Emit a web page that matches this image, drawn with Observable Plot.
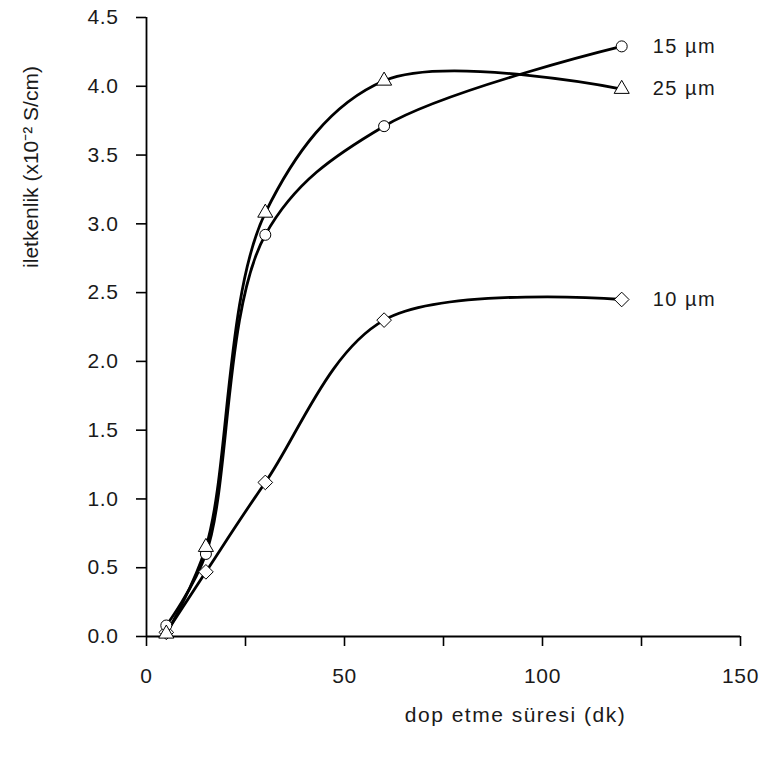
<!DOCTYPE html>
<html>
<head>
<meta charset="utf-8">
<script src="https://cdn.jsdelivr.net/npm/d3@7"></script>
<script src="https://cdn.jsdelivr.net/npm/@observablehq/plot@0.6"></script>
<style>
  body { margin: 0; background: #fff; }
  svg { font-family: "Liberation Sans", Arial, sans-serif; }
  .lsx text { letter-spacing: 1.5px; }
  .lst text { letter-spacing: 0.6px; }
</style>
</head>
<body>
<div id="chart"></div>
<script>
const times = [5, 15, 30, 60, 120];
const s10 = [0.03, 0.47, 1.12, 2.30, 2.45];
const s15 = [0.08, 0.60, 2.92, 3.71, 4.29];
const s25 = [0.02, 0.65, 3.08, 4.04, 3.98];
const seriesNames = ["10 µm", "15 µm", "25 µm"];
const seriesSymbols = ["diamond2", "circle", "triangle"];
const xTicks = [0, 25, 50, 75, 100, 125, 150];
const xTickLabels = [0, 50, 100, 150];
const yTicks = [0, 0.5, 1.0, 1.5, 2.0, 2.5, 3.0, 3.5, 4.0, 4.5];
const xLabel = "dop etme süresi (dk)";
const yLabel = "iletkenlik (x10⁻² S/cm)";

const values = [s10, s15, s25];
const rows = [];
seriesNames.forEach((name, i) => {
  times.forEach((t, j) => rows.push({series: name, t, v: values[i][j]}));
});
const lastRows = seriesNames.map((name, i) => ({series: name, t: times[times.length - 1], v: values[i][times.length - 1]}));
const symbolSizes = {"diamond2": 6.6, "circle": 5.5, "triangle": 5.6};

const chart = Plot.plot({
  width: 768,
  height: 759,
  marginLeft: 146,
  marginRight: 28,
  marginTop: 17,
  marginBottom: 123,
  style: {fontFamily: "'Liberation Sans', Arial, sans-serif", color: "#1a1a1a", background: "#fff"},
  x: {domain: [0, 150]},
  y: {domain: [0, 4.5]},
  symbol: {domain: seriesNames, range: seriesSymbols},
  marks: [
    Plot.axisX({ticks: xTicks, tickSize: 10, tickPadding: 22, tickFormat: d => xTickLabels.includes(d) ? String(d) : "", label: null, fontSize: 21, strokeWidth: 1.6, stroke: "#000", className: "lst"}),
    Plot.axisY({ticks: yTicks, tickSize: 10, tickPadding: 18, tickFormat: d => d.toFixed(1), label: null, fontSize: 21, strokeWidth: 1.6, stroke: "#000", className: "lst"}),
    Plot.ruleX([0], {stroke: "#000", strokeWidth: 1.8}),
    Plot.ruleY([0], {stroke: "#000", strokeWidth: 1.8}),
    Plot.line(rows, {x: "t", y: "v", z: "series", curve: "catmull-rom", stroke: "#000", strokeWidth: 2.8}),
    ...seriesNames.map((name, i) =>
      Plot.dot(rows.filter(d => d.series === name), {x: "t", y: "v", symbol: "series", r: symbolSizes[seriesSymbols[i]], fill: "#fff", stroke: "#000", strokeWidth: 1})
    ),
    Plot.text(lastRows, {x: "t", y: "v", text: "series", textAnchor: "start", dx: 31, fontSize: 20, fill: "#1a1a1a", className: "lsx"}),
    Plot.text([xLabel], {frameAnchor: "bottom", lineAnchor: "middle", textAnchor: "middle", dx: 72, dy: 79, fontSize: 21, fill: "#1a1a1a", className: "lsx"}),
    Plot.text([yLabel], {frameAnchor: "left", lineAnchor: "middle", textAnchor: "middle", rotate: -90, dx: -115, dy: -160, fontSize: 21, fill: "#1a1a1a"})
  ]
});
document.getElementById("chart").appendChild(chart);
</script>
</body>
</html>
